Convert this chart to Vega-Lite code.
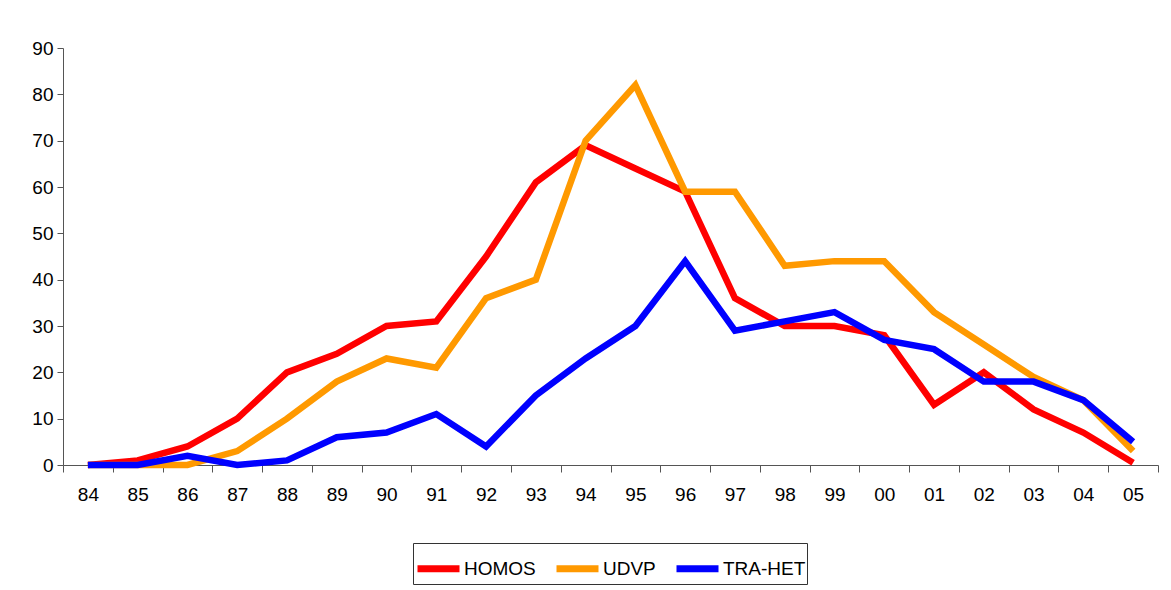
{
  "$schema": "https://vega.github.io/schema/vega-lite/v6.json",
  "autosize": "none",
  "width": 1095,
  "height": 417,
  "padding": {"left": 63, "top": 48, "right": 13, "bottom": 125},
  "background": "white",
  "data": {"values": [
    {"year":"84","series":"HOMOS","v":0},{"year":"85","series":"HOMOS","v":1},{"year":"86","series":"HOMOS","v":4},{"year":"87","series":"HOMOS","v":10},{"year":"88","series":"HOMOS","v":20},{"year":"89","series":"HOMOS","v":24},{"year":"90","series":"HOMOS","v":30},{"year":"91","series":"HOMOS","v":31},{"year":"92","series":"HOMOS","v":45},{"year":"93","series":"HOMOS","v":61},{"year":"94","series":"HOMOS","v":69},{"year":"95","series":"HOMOS","v":64},{"year":"96","series":"HOMOS","v":59},{"year":"97","series":"HOMOS","v":36},{"year":"98","series":"HOMOS","v":30},{"year":"99","series":"HOMOS","v":30},{"year":"00","series":"HOMOS","v":28},{"year":"01","series":"HOMOS","v":13},{"year":"02","series":"HOMOS","v":20},{"year":"03","series":"HOMOS","v":12},{"year":"04","series":"HOMOS","v":7},{"year":"05","series":"HOMOS","v":0.5},
    {"year":"84","series":"UDVP","v":0},{"year":"85","series":"UDVP","v":0},{"year":"86","series":"UDVP","v":0},{"year":"87","series":"UDVP","v":3},{"year":"88","series":"UDVP","v":10},{"year":"89","series":"UDVP","v":18},{"year":"90","series":"UDVP","v":23},{"year":"91","series":"UDVP","v":21},{"year":"92","series":"UDVP","v":36},{"year":"93","series":"UDVP","v":40},{"year":"94","series":"UDVP","v":70},{"year":"95","series":"UDVP","v":82},{"year":"96","series":"UDVP","v":59},{"year":"97","series":"UDVP","v":59},{"year":"98","series":"UDVP","v":43},{"year":"99","series":"UDVP","v":44},{"year":"00","series":"UDVP","v":44},{"year":"01","series":"UDVP","v":33},{"year":"02","series":"UDVP","v":26},{"year":"03","series":"UDVP","v":19},{"year":"04","series":"UDVP","v":14},{"year":"05","series":"UDVP","v":3},
    {"year":"84","series":"TRA-HET","v":0},{"year":"85","series":"TRA-HET","v":0},{"year":"86","series":"TRA-HET","v":2},{"year":"87","series":"TRA-HET","v":0},{"year":"88","series":"TRA-HET","v":1},{"year":"89","series":"TRA-HET","v":6},{"year":"90","series":"TRA-HET","v":7},{"year":"91","series":"TRA-HET","v":11},{"year":"92","series":"TRA-HET","v":4},{"year":"93","series":"TRA-HET","v":15},{"year":"94","series":"TRA-HET","v":23},{"year":"95","series":"TRA-HET","v":30},{"year":"96","series":"TRA-HET","v":44},{"year":"97","series":"TRA-HET","v":29},{"year":"98","series":"TRA-HET","v":31},{"year":"99","series":"TRA-HET","v":33},{"year":"00","series":"TRA-HET","v":27},{"year":"01","series":"TRA-HET","v":25},{"year":"02","series":"TRA-HET","v":18},{"year":"03","series":"TRA-HET","v":18},{"year":"04","series":"TRA-HET","v":14},{"year":"05","series":"TRA-HET","v":5}
  ]},
  "mark": {"type": "line", "strokeWidth": 6.5, "strokeJoin": "miter", "strokeCap": "butt"},
  "encoding": {
    "x": {
      "field": "year", "type": "nominal", "sort": null,
      "scale": {"type": "band", "paddingInner": 0, "paddingOuter": 0},
      "axis": {"title": null, "labelAngle": 0, "tickBand": "extent", "domainColor": "#555555", "tickColor": "#555555", "tickSize": 7, "labelPadding": 13, "labelFont": "Liberation Sans", "labelFontSize": 19, "labelColor": "black", "grid": false}
    },
    "y": {
      "field": "v", "type": "quantitative",
      "scale": {"domain": [0, 90], "nice": false},
      "axis": {"title": null, "values": [0,10,20,30,40,50,60,70,80,90], "domainColor": "#555555", "tickColor": "#555555", "tickSize": 6, "labelPadding": 4, "labelFont": "Liberation Sans", "labelFontSize": 19, "labelColor": "black", "grid": false}
    },
    "color": {
      "field": "series", "type": "nominal",
      "scale": {"domain": ["HOMOS", "UDVP", "TRA-HET"], "range": ["#ff0000", "#ff9900", "#0000ff"]},
      "legend": {
        "title": null, "orient": "none", "direction": "horizontal", "legendX": 350, "legendY": 495,
        "symbolType": "stroke", "symbolStrokeWidth": 7, "symbolSize": 1764,
        "labelFont": "Liberation Sans", "labelFontSize": 19, "labelColor": "black", "labelOffset": 1,
        "columnPadding": 6, "strokeColor": "#333333", "padding": 1
      }
    }
  },
  "config": {"view": {"stroke": null}}
}
